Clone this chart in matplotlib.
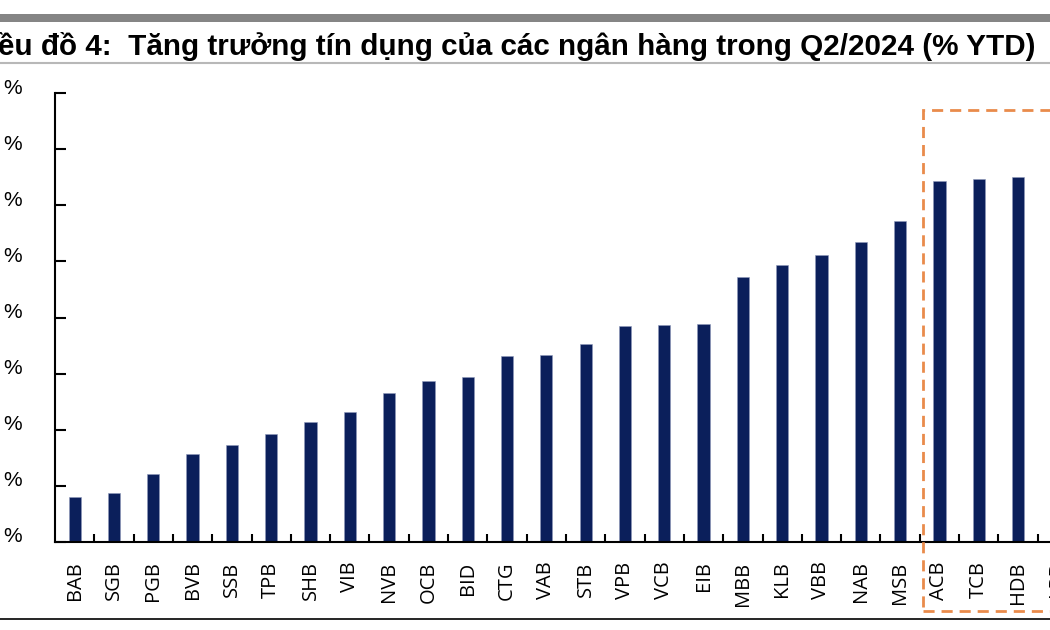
import matplotlib
matplotlib.use('Agg')
import matplotlib.pyplot as plt
from matplotlib.patches import Rectangle
from matplotlib.lines import Line2D
from matplotlib.transforms import ScaledTranslation
import numpy as np

# credit growth YTD, Q2/2024 (%)
banks = ['BAB', 'SGB', 'PGB', 'BVB', 'SSB', 'TPB', 'SHB', 'VIB', 'NVB', 'OCB', 'BID', 'CTG', 'VAB',
         'STB', 'VPB', 'VCB', 'EIB', 'MBB', 'KLB', 'VBB', 'NAB', 'MSB', 'ACB', 'TCB', 'HDB']
growth = [1.62, 1.75, 2.42, 3.15, 3.44, 3.85, 4.29, 4.63, 5.30, 5.73, 5.87, 6.63, 6.67,
          7.04, 7.71, 7.75, 7.76, 9.45, 9.88, 10.24, 10.70, 11.45, 12.87, 12.92, 12.99]
# the next bank is cut off at the right edge, only its label shows
tick_labels = banks + ['LPB']
y_ticks = [0, 2, 4, 6, 8, 10, 12, 14, 16]

title = 'ều đồ 4:  Tăng trưởng tín dụng của các ngân hàng trong Q2/2024 (% YTD)'

W, H = 1050, 630
fig = plt.figure(figsize=(W / 100, H / 100), dpi=100)
ax = fig.add_axes([55 / W, 88 / H, 1022 / W, 449 / H])

x = np.arange(len(banks))
ax.bar(x, growth, width=0.31, color='#0b1f5b', edgecolor='#8f9abb', linewidth=0.4)

ax.set_xlim(-0.5, len(tick_labels) - 0.5)
ax.set_ylim(0, 16)
ax.set_yticks(y_ticks)
ax.set_yticklabels(['%'] * len(y_ticks), fontfamily='Liberation Sans', fontsize=15)
ax.set_xticks(np.arange(len(tick_labels)))
ax.set_xticklabels(tick_labels, rotation=90, fontfamily='Open Sans', fontsize=14.5)
ax.set_xticks(np.arange(len(tick_labels)) + 0.5, minor=True)

ax.tick_params(axis='x', which='major', length=0, pad=14)
ax.tick_params(axis='x', which='minor', direction='in', length=6, width=1.5)
ax.tick_params(axis='y', direction='in', length=8, width=1.5, pad=24)

# the % labels sit a little above their ticks in the original
shift = ScaledTranslation(0, 0.07, fig.dpi_scale_trans)
for lbl in ax.get_yticklabels():
    lbl.set_transform(lbl.get_transform() + shift)

for s in ['top', 'right']:
    ax.spines[s].set_visible(False)
for s in ['left', 'bottom']:
    ax.spines[s].set_linewidth(1.5)

# header band, title and rules
fig.add_artist(Rectangle((0, (H - 22) / H), 1, 8 / H, transform=fig.transFigure,
                         color='#858585', lw=0))
fig.text(-0.002, (H - 55) / H, title, fontfamily='Liberation Sans', fontweight='bold',
         fontsize=21.3, va='baseline', ha='left')
fig.add_artist(Line2D([0, 1], [(H - 62.5) / H] * 2, transform=fig.transFigure,
                      color='#b8b8b8', lw=1.5))
fig.add_artist(Line2D([0, 1], [(H - 619) / H] * 2, transform=fig.transFigure,
                      color='black', lw=1.2))

# dashed highlight around the top three banks
fig.add_artist(Rectangle((923 / W, (H - 611) / H), 200 / W, 501 / H, transform=fig.transFigure,
                         fill=False, edgecolor='#e98b4b', lw=2, linestyle=(0, (4, 2.5))))

fig.savefig('out.png', dpi=100)
